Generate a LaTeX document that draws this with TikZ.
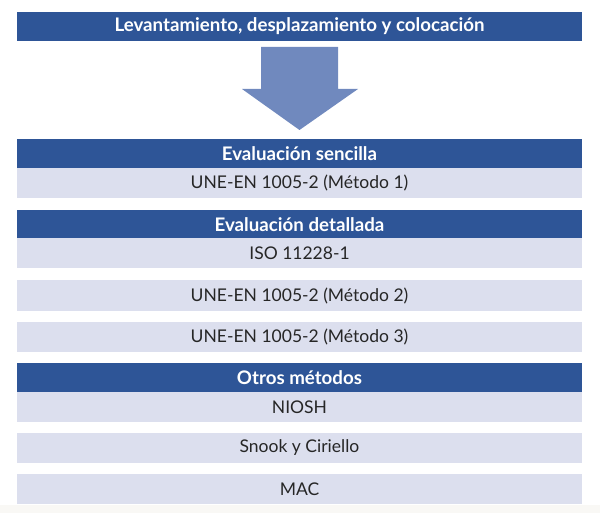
\documentclass[tikz,border=0pt]{standalone}
\usepackage{fontspec}
\setmainfont{Lato}
\usetikzlibrary{positioning}
\definecolor{headblue}{RGB}{46,85,151}
\definecolor{rowgray}{RGB}{220,223,238}
\definecolor{arrowblue}{RGB}{112,137,190}
\definecolor{footgray}{RGB}{249,248,245}

\begin{document}
\begin{tikzpicture}[x=1pt, y=-1pt,
    every node/.style={rectangle, minimum width=565pt, inner sep=0pt},
    headbox/.style={fill=headblue, text=white, font=\bfseries\fontsize{18.7}{21}\selectfont, minimum height=29pt},
    rowbox/.style={fill=rowgray, text=black!85, font=\fontsize{17.5}{20}\selectfont, minimum height=30pt}]
        \useasboundingbox (0,0) rectangle (600,513);
        \fill[footgray] (0,505) rectangle (600,513);

        % Title and block arrow
        \node[headbox] (title) at (299.5,26.5) {Levantamiento, desplazamiento y colocación};
        \fill[arrowblue] (261,47) -- (338,47) -- (338,89) -- (358,89) -- (299.5,130) -- (242,89) -- (261,89) -- cycle;

        % Evaluacion sencilla
        \node[headbox] (simple) at (299.5,153.5) {Evaluación sencilla};
        \node[rowbox] (met1) at (299.5,183) {UNE-EN 1005-2 (Método 1)};

        % Evaluacion detallada
        \node[headbox] (detail) at (299.5,224.5) {Evaluación detallada};
        \node[rowbox] (iso) at (299.5,253.5) {ISO 11228-1};
        \node[rowbox] (met2) at (299.5,295.5) {UNE-EN 1005-2 (Método 2)};
        \node[rowbox] (met3) at (299.5,336.5) {UNE-EN 1005-2 (Método 3)};

        % Otros metodos
        \node[headbox] (other) at (299.5,377.5) {Otros métodos};
        \node[rowbox] (niosh) at (299.5,407) {NIOSH};
        \node[rowbox] (snook) at (299.5,448) {Snook y Ciriello};
        \node[rowbox] (mac) at (299.5,489) {MAC};
      \end{tikzpicture}
\end{document}
